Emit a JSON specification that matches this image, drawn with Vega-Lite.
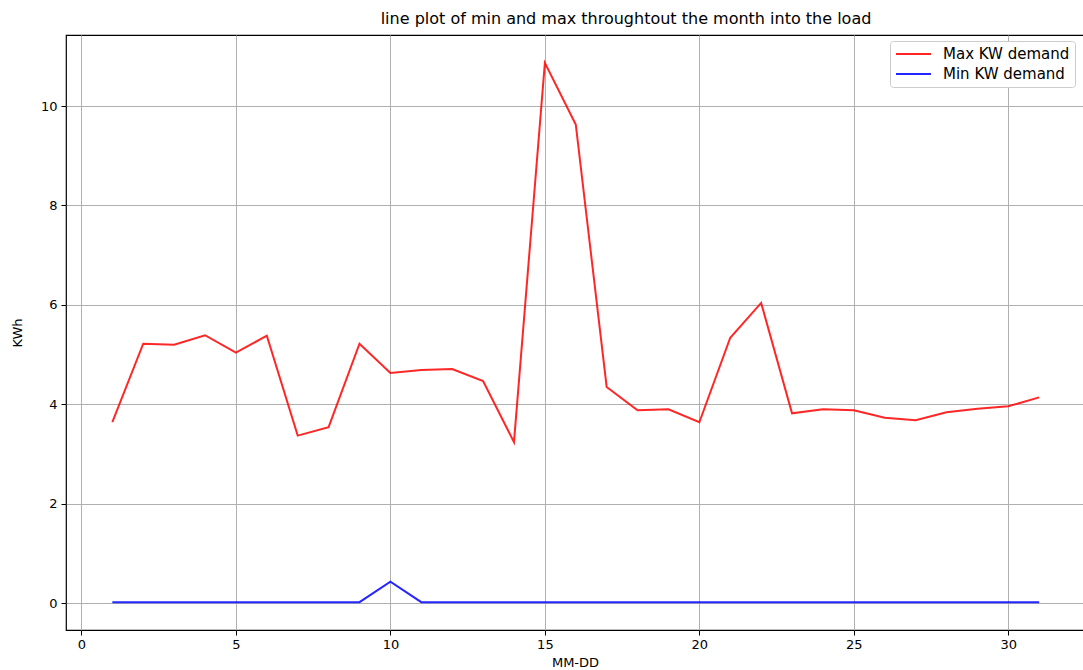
{
  "$schema": "https://vega.github.io/schema/vega-lite/v6.json",
  "autosize": {"type": "none"},
  "padding": {"left": 66, "top": 35, "right": 0, "bottom": 40},
  "width": 1018,
  "height": 595,
  "background": "white",
  "config": {
    "font": "DejaVu Sans",
    "view": {"stroke": "black", "strokeWidth": 1.2},
    "axis": {
      "domain": false,
      "grid": true,
      "gridColor": "#b0b0b0",
      "gridWidth": 1,
      "tickColor": "black",
      "tickSize": 5,
      "tickWidth": 1,
      "labelFont": "DejaVu Sans",
      "labelFontSize": 13,
      "labelColor": "black",
      "titleFont": "DejaVu Sans",
      "titleFontSize": 13,
      "titleFontWeight": "normal",
      "titleColor": "black"
    }
  },
  "title": {
    "text": "line plot of min and max throughtout the month into the load",
    "font": "DejaVu Sans",
    "fontSize": 16,
    "fontWeight": "normal",
    "color": "black",
    "offset": 8,
    "dx": 51
  },
  "data": {
    "values": [
      {"day": 1, "series": "Max KW demand", "kwh": 3.64},
      {"day": 2, "series": "Max KW demand", "kwh": 5.22},
      {"day": 3, "series": "Max KW demand", "kwh": 5.2},
      {"day": 4, "series": "Max KW demand", "kwh": 5.39},
      {"day": 5, "series": "Max KW demand", "kwh": 5.04},
      {"day": 6, "series": "Max KW demand", "kwh": 5.38},
      {"day": 7, "series": "Max KW demand", "kwh": 3.37},
      {"day": 8, "series": "Max KW demand", "kwh": 3.54},
      {"day": 9, "series": "Max KW demand", "kwh": 5.22},
      {"day": 10, "series": "Max KW demand", "kwh": 4.63},
      {"day": 11, "series": "Max KW demand", "kwh": 4.69},
      {"day": 12, "series": "Max KW demand", "kwh": 4.71},
      {"day": 13, "series": "Max KW demand", "kwh": 4.47},
      {"day": 14, "series": "Max KW demand", "kwh": 3.24},
      {"day": 15, "series": "Max KW demand", "kwh": 10.87},
      {"day": 16, "series": "Max KW demand", "kwh": 9.63},
      {"day": 17, "series": "Max KW demand", "kwh": 4.35},
      {"day": 18, "series": "Max KW demand", "kwh": 3.88},
      {"day": 19, "series": "Max KW demand", "kwh": 3.9},
      {"day": 20, "series": "Max KW demand", "kwh": 3.64},
      {"day": 21, "series": "Max KW demand", "kwh": 5.34},
      {"day": 22, "series": "Max KW demand", "kwh": 6.04},
      {"day": 23, "series": "Max KW demand", "kwh": 3.82},
      {"day": 24, "series": "Max KW demand", "kwh": 3.9},
      {"day": 25, "series": "Max KW demand", "kwh": 3.88},
      {"day": 26, "series": "Max KW demand", "kwh": 3.73},
      {"day": 27, "series": "Max KW demand", "kwh": 3.68},
      {"day": 28, "series": "Max KW demand", "kwh": 3.84},
      {"day": 29, "series": "Max KW demand", "kwh": 3.91},
      {"day": 30, "series": "Max KW demand", "kwh": 3.96},
      {"day": 31, "series": "Max KW demand", "kwh": 4.14},
      {"day": 1, "series": "Min KW demand", "kwh": 0.02},
      {"day": 2, "series": "Min KW demand", "kwh": 0.02},
      {"day": 3, "series": "Min KW demand", "kwh": 0.02},
      {"day": 4, "series": "Min KW demand", "kwh": 0.02},
      {"day": 5, "series": "Min KW demand", "kwh": 0.02},
      {"day": 6, "series": "Min KW demand", "kwh": 0.02},
      {"day": 7, "series": "Min KW demand", "kwh": 0.02},
      {"day": 8, "series": "Min KW demand", "kwh": 0.02},
      {"day": 9, "series": "Min KW demand", "kwh": 0.02},
      {"day": 10, "series": "Min KW demand", "kwh": 0.43},
      {"day": 11, "series": "Min KW demand", "kwh": 0.02},
      {"day": 12, "series": "Min KW demand", "kwh": 0.02},
      {"day": 13, "series": "Min KW demand", "kwh": 0.02},
      {"day": 14, "series": "Min KW demand", "kwh": 0.02},
      {"day": 15, "series": "Min KW demand", "kwh": 0.02},
      {"day": 16, "series": "Min KW demand", "kwh": 0.02},
      {"day": 17, "series": "Min KW demand", "kwh": 0.02},
      {"day": 18, "series": "Min KW demand", "kwh": 0.02},
      {"day": 19, "series": "Min KW demand", "kwh": 0.02},
      {"day": 20, "series": "Min KW demand", "kwh": 0.02},
      {"day": 21, "series": "Min KW demand", "kwh": 0.02},
      {"day": 22, "series": "Min KW demand", "kwh": 0.02},
      {"day": 23, "series": "Min KW demand", "kwh": 0.02},
      {"day": 24, "series": "Min KW demand", "kwh": 0.02},
      {"day": 25, "series": "Min KW demand", "kwh": 0.02},
      {"day": 26, "series": "Min KW demand", "kwh": 0.02},
      {"day": 27, "series": "Min KW demand", "kwh": 0.02},
      {"day": 28, "series": "Min KW demand", "kwh": 0.02},
      {"day": 29, "series": "Min KW demand", "kwh": 0.02},
      {"day": 30, "series": "Min KW demand", "kwh": 0.02},
      {"day": 31, "series": "Min KW demand", "kwh": 0.02}
    ]
  },
  "mark": {"type": "line", "strokeWidth": 2, "opacity": 0.85},
  "encoding": {
    "x": {
      "field": "day",
      "type": "quantitative",
      "title": "MM-DD",
      "scale": {"domain": [-0.5, 32.45], "nice": false, "zero": false},
      "axis": {"values": [0, 5, 10, 15, 20, 25, 30], "labelPadding": 3, "titlePadding": 5}
    },
    "y": {
      "field": "kwh",
      "type": "quantitative",
      "title": "KWh",
      "scale": {"domain": [-0.54, 11.43], "nice": false, "zero": false},
      "axis": {"values": [0, 2, 4, 6, 8, 10], "labelPadding": 4, "titlePadding": 16}
    },
    "color": {
      "field": "series",
      "type": "nominal",
      "scale": {"domain": ["Max KW demand", "Min KW demand"], "range": ["#ff0000", "#0000ff"]},
      "legend": {
        "title": null,
        "orient": "none",
        "legendX": 824,
        "legendY": 6,
        "symbolType": "stroke",
        "symbolSize": 1225,
        "symbolStrokeWidth": 2,
        "clipHeight": 16,
        "labelFont": "DejaVu Sans",
        "labelFontSize": 15,
        "labelColor": "black",
        "rowPadding": 4,
        "fillColor": "white",
        "strokeColor": "#cccccc",
        "cornerRadius": 3,
        "padding": 5,
        "labelOffset": 11
      }
    }
  }
}
